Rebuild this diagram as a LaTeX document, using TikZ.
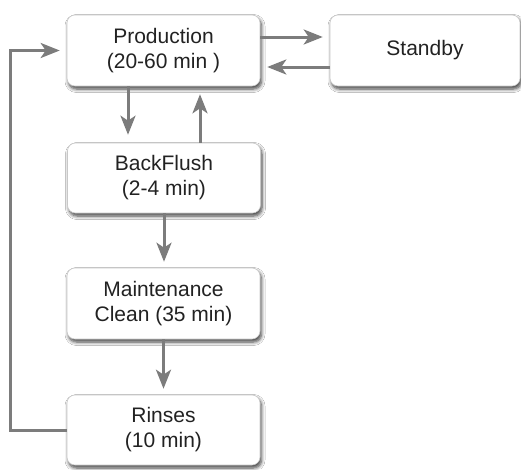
\documentclass[tikz,border=0pt]{standalone}
\usepackage{fontspec}
\setmainfont{Liberation Sans}
\usetikzlibrary{arrows.meta,shadows.blur}
\definecolor{flowgray}{HTML}{7C7C7C}
\definecolor{boxedge}{HTML}{C8C8C8}
\definecolor{inktext}{HTML}{222222}
\tikzset{
  stage/.style={draw=boxedge, line width=0.6pt, fill=white, rounded corners=8pt,
    minimum width=193pt, minimum height=71pt, align=center, text=inktext,
    font=\fontsize{21}{25}\selectfont,
    blur shadow={shadow xshift=1.5pt, shadow yshift=-3pt, shadow blur radius=3.5pt,
      shadow blur steps=6, shadow opacity=75}},
  flow/.style={draw=flowgray, line width=3pt,
    -{Stealth[length=19pt, width=15pt, inset=5pt, fill=flowgray]}}
}
\begin{document}
\begin{tikzpicture}[x=1pt, y=-1pt]
\useasboundingbox[fill=white] (0,0) rectangle (521,469);

\node[stage] (prod) at (163.5,50.5) {Production\\(20-60 min )};
\node[stage, minimum width=190pt] (stby) at (425,50.5) {Standby};
\node[stage, minimum height=70pt] (bf) at (164,178) {BackFlush\\(2-4 min)};
\node[stage] (maint) at (163.5,303.5) {Maintenance\\Clean (35 min)};
\node[stage, minimum height=70pt] (rinse) at (163.5,430) {Rinses\\(10 min)};

% production <-> standby
\draw[flow, shorten >=7pt] ([yshift=13.5pt]prod.east) -- ([yshift=13.5pt]stby.west);
\draw[flow, shorten >=7pt] ([yshift=-16.5pt]stby.west) -- ([yshift=-16.5pt]prod.east);

% production <-> backflush
\draw[flow, shorten >=8pt] ([xshift=-35.5pt]prod.south) -- ([xshift=-35.5pt]prod.south |- bf.north);
\draw[flow, shorten >=8pt] ([xshift=36pt]bf.north) -- ([xshift=36pt]bf.north |- prod.south);

% cleaning sequence
\draw[flow, shorten >=6pt] (bf.south) -- (bf.south |- maint.north);
\draw[flow, shorten >=6pt] (maint.south) -- (maint.south |- rinse.north);

% return loop to production
\coordinate (loop) at (10,430);
\draw[flow, shorten >=7pt] (rinse.west) -- (loop) |- (prod.west);
\end{tikzpicture}
\end{document}
